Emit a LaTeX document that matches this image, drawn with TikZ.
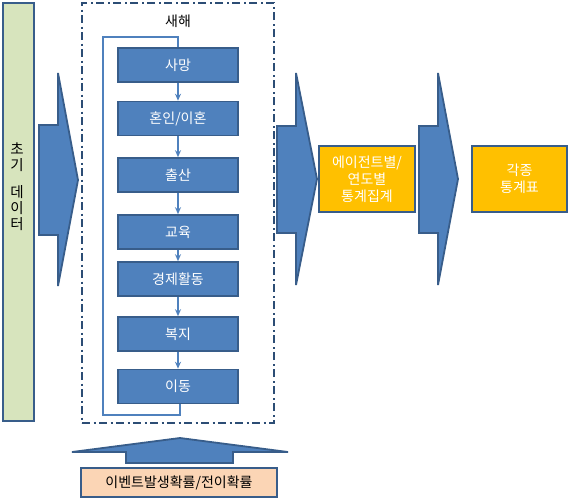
\documentclass[tikz,border=0pt]{standalone}
\usepackage{fontspec}
\setmainfont{Noto Sans CJK KR}
\usetikzlibrary{arrows.meta}
\definecolor{bfill}{HTML}{4F81BD}
\definecolor{bline}{HTML}{385D8A}
\definecolor{gfill}{HTML}{D7E4BD}
\definecolor{ofill}{HTML}{FFC000}
\definecolor{pfill}{HTML}{FBD5B5}
\definecolor{dline}{HTML}{2C4D75}
\tikzset{
  stepbox/.style={draw=bline, line width=1.6pt, fill=bfill, text=white, minimum width=120pt, minimum height=34pt, inner sep=0pt, font=\fontsize{14}{15}\selectfont},
  goldbox/.style={draw=bline, line width=1.8pt, fill=ofill, text=white, minimum width=96pt, minimum height=66pt, inner sep=0pt, align=center, font=\fontsize{14}{17}\selectfont},
  bigarrow/.style={draw=bline, line width=1.8pt, fill=bfill, line join=miter},
  flow/.style={draw=bfill, line width=1.2pt, -{Stealth[length=7pt,width=6pt]}},
}
\begin{document}
\begin{tikzpicture}[x=1pt,y=-1pt]
\useasboundingbox (0,0) rectangle (569,501);
% left bar
\node[draw=bline, line width=1.8pt, fill=gfill, minimum width=31pt, minimum height=418pt, inner sep=0pt, anchor=north west] (init) at (2,2) {};
\node[font=\fontsize{14.5}{19}\selectfont, align=center] (initlbl) at (17,187) {초\\[-3pt]기\\[8pt]데\\[-3pt]이\\[-3pt]터};
% arrow 1
\draw[bigarrow] (39,125) -- (58,125) -- (58,73) -- (78,180) -- (58,286) -- (58,235) -- (39,235) -- cycle;
% dash-dot frame
\node[draw=dline, line width=2pt, dash pattern=on 8pt off 3.5pt on 2pt off 3.5pt, minimum width=192pt, minimum height=420pt, inner sep=0pt, anchor=north west] (frame) at (81,2) {};
\node[font=\fontsize{14}{15}\selectfont] (title) at (178,21) {새해};
% step boxes
\node[stepbox] (s1) at (178,65) {사망};
\node[stepbox] (s2) at (178,118.5) {혼인/이혼};
\node[stepbox] (s3) at (178,175) {출산};
\node[stepbox] (s4) at (178,232) {교육};
\node[stepbox] (s5) at (178,279) {경제활동};
\node[stepbox] (s6) at (178,334) {복지};
\node[stepbox] (s7) at (178,386.5) {이동};
\draw[flow] (s1) -- (s2);
\draw[flow] (s2) -- (s3);
\draw[flow] (s3) -- (s4);
\draw[flow] (s4) -- (s5);
\draw[flow] (s5) -- (s6);
\draw[flow] (s6) -- (s7);
% loop line
\coordinate (l1) at (180,415);
\coordinate (l2) at (103,415);
\coordinate (l3) at (103,37);
\coordinate (l4) at (178,37);
\draw[bfill, line width=1.2pt] (s7.south -| l1) -- (l1) -- (l2) -- (l3) -- (l4) -- (s1.north);
% bottom up arrow
\draw[bigarrow] (126,463) -- (126,452) -- (72,452) -- (180,438) -- (288,452) -- (233,452) -- (233,463) -- cycle;
\node[draw=bline, line width=1.8pt, fill=pfill, minimum width=196pt, minimum height=29pt, inner sep=0pt, font=\fontsize{14}{15}\selectfont] (prob) at (179,482.5) {이벤트발생확률/전이확률};
% arrow 2
\draw[bigarrow] (277,126) -- (296,126) -- (296,73) -- (317,179) -- (296,285) -- (296,233) -- (277,233) -- cycle;
\node[goldbox] (agg) at (367,179) {에이전트별/\\연도별\\통계집계};
% arrow 3
\draw[bigarrow] (419,126) -- (438,126) -- (438,73) -- (458,179) -- (438,285) -- (438,233) -- (419,233) -- cycle;
\node[goldbox, minimum width=95pt] (stats) at (519.5,179) {각종\\통계표};
\end{tikzpicture}
\end{document}
